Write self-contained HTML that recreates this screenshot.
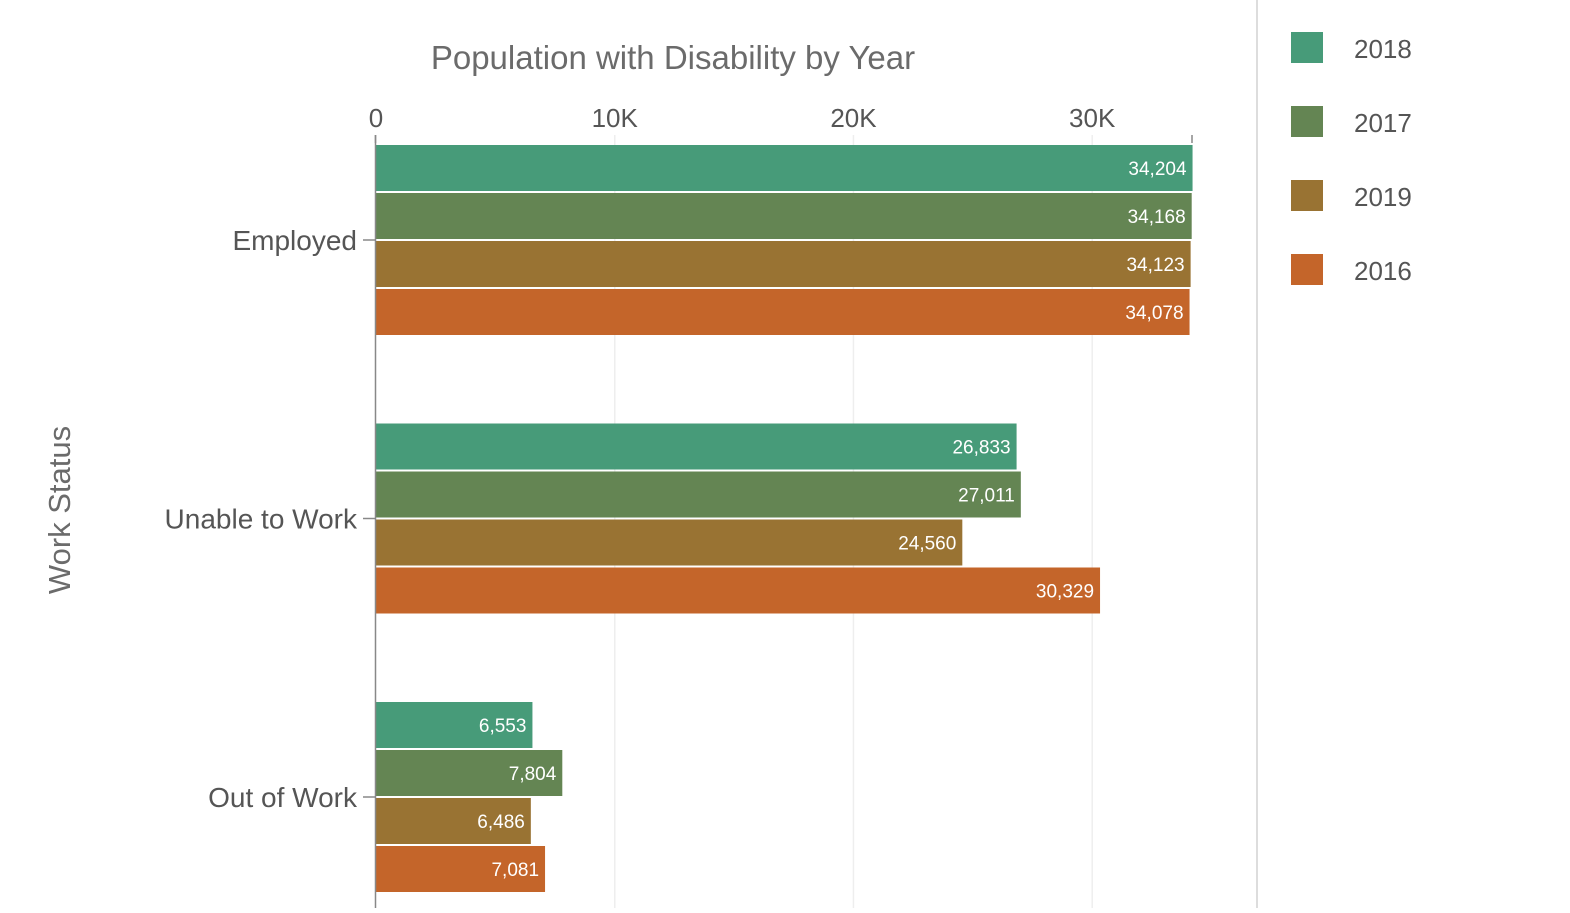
<!DOCTYPE html>
<html><head><meta charset="utf-8"><style>
body{margin:0;background:#fff;width:1570px;height:908px;overflow:hidden;font-family:"Liberation Sans",sans-serif}
</style></head><body>
<svg width="1570" height="908" id="chart" xmlns="http://www.w3.org/2000/svg" font-family="Liberation Sans, sans-serif">
<text x="673" y="69" text-anchor="middle" font-size="33" fill="#6b6b6b">Population with Disability by Year</text>
<text transform="translate(70,510) rotate(-90)" text-anchor="middle" font-size="31" fill="#6b6b6b">Work Status</text>
<line x1="1257" y1="0" x2="1257" y2="908" stroke="#ddd" stroke-width="2"/>
<g id="grid"></g><g id="bars"></g><g id="axes"></g><g id="legend"></g>
</svg>
<script>
const categories=["Employed","Unable to Work","Out of Work"];
const seriesNames=["2018","2017","2019","2016"];
const seriesColors=["#479b79","#648553","#997333","#c4652a"];
const values2018=[34204,26833,6553];
const values2017=[34168,27011,7804];
const values2019=[34123,24560,6486];
const values2016=[34078,30329,7081];
const xTicks=[0,10000,20000,30000];
const xTickLabels=["0","10K","20K","30K"];
const allValues=[values2018,values2017,values2019,values2016];
const NS="http://www.w3.org/2000/svg";
const x0=376,pxPer=0.023873;
function xs(v){return x0+v*pxPer;}
function catCenter(i){return 240+i*278.5;}
function mk(t,a,p){const e=document.createElementNS(NS,t);for(const k in a)e.setAttribute(k,a[k]);p.appendChild(e);return e;}
const grid=document.getElementById('grid'),bars=document.getElementById('bars'),axes=document.getElementById('axes'),leg=document.getElementById('legend');
xTicks.forEach((t,i)=>{
 const x=xs(t);
 if(t>0){const g=mk('line',{x1:x,x2:x,y1:135,y2:908,stroke:'#eee','stroke-width':1.5},grid);
 
 }
 const tx=mk('text',{x:x,y:127,'text-anchor':'middle','font-size':26,fill:'#555'},axes);
 tx.textContent=xTickLabels[i];
 
 
});
const al=mk('line',{x1:x0-0.5,x2:x0-0.5,y1:135,y2:908,stroke:'#888','stroke-width':1.5},axes);


[x0-0.5,1192].forEach(x=>{const t=mk('line',{x1:x,x2:x,y1:135,y2:143,stroke:'#888','stroke-width':1.5},axes);

});
categories.forEach((c,i)=>{
 const cy=catCenter(i);
 const tk=mk('line',{x1:363,x2:375,y1:cy,y2:cy,stroke:'#888','stroke-width':1.5},axes);
 
 
 const lb=mk('text',{x:357,y:cy+10,'text-anchor':'end','font-size':28,fill:'#555'},axes);
 lb.textContent=c;
 
 
 allValues.forEach((vals,s)=>{
  const y=cy-95+s*48;
  const w=xs(vals[i])-x0;
  const r=mk('rect',{x:x0,y:y,width:w,height:46,fill:seriesColors[s]},bars);
  
  
  const t=mk('text',{x:xs(vals[i])-6,y:y+30,'text-anchor':'end','font-size':19,fill:'#fff'},bars);
  t.textContent=vals[i].toLocaleString('en-US');
  
  
 });
});
seriesNames.forEach((n,s)=>{
 const y=32+s*74;
 const g=mk('g',{},leg);
 
 
 mk('rect',{x:1291,y:y,width:32,height:31,fill:seriesColors[s]},g);
 const t=mk('text',{x:1354,y:y+26,'font-size':26,fill:'#555'},g);
 t.textContent=n;
});
</script>
</body></html>
